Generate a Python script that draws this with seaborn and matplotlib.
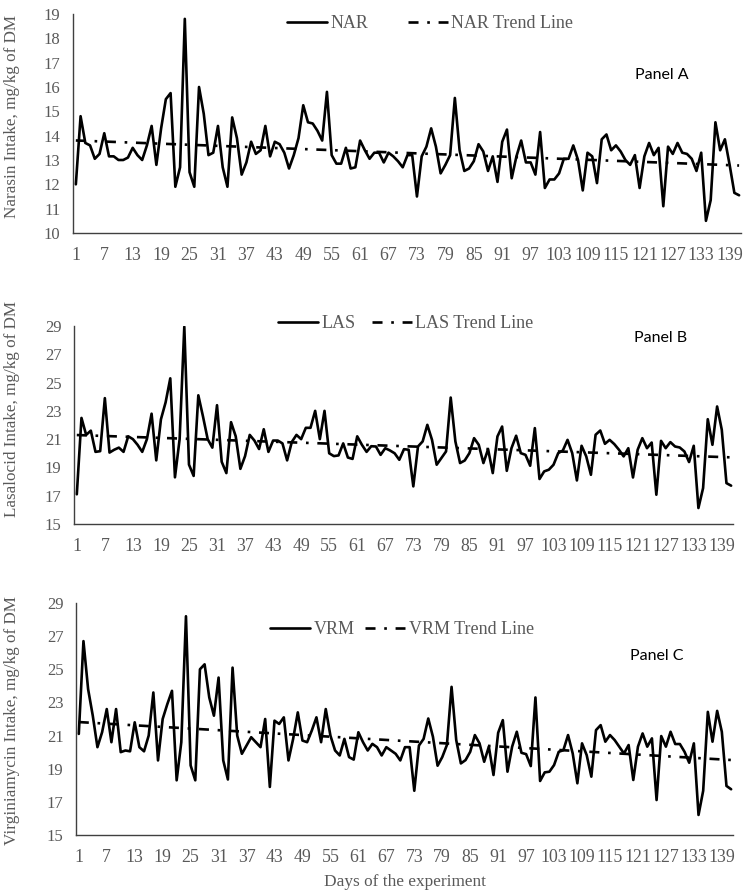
import numpy as np
import pandas as pd
import matplotlib
matplotlib.use("Agg")
import matplotlib.pyplot as plt
import seaborn as sns

# daily intake, mg/kg of DM
nar = [12.0, 14.8, 13.7, 13.6, 13.05, 13.25, 14.1, 13.15, 13.15, 13.0,
       13.0, 13.1, 13.5, 13.2, 13.0, 13.6, 14.4, 12.8, 14.3, 15.5,
       15.75, 11.9, 12.7, 18.8, 12.5, 11.9, 16.0, 14.9, 13.2, 13.3,
       14.4, 12.7, 11.9, 14.75, 13.9, 12.4, 12.9, 13.75, 13.25, 13.4,
       14.4, 13.15, 13.75, 13.65, 13.3, 12.65, 13.2, 13.9, 15.25, 14.55,
       14.5, 14.2, 13.8, 15.8, 13.2, 12.85, 12.85, 13.5, 12.65, 12.7,
       13.8, 13.4, 13.05, 13.3, 13.3, 12.9, 13.3, 13.15, 12.95, 12.7,
       13.2, 13.2, 11.5, 13.15, 13.55, 14.3, 13.55, 12.45, 12.8, 13.2,
       15.55, 13.4, 12.55, 12.65, 12.95, 13.65, 13.35, 12.55, 13.15, 12.1,
       13.75, 14.25, 12.25, 13.15, 13.8, 12.9, 12.9, 12.4, 14.15, 11.85,
       12.2, 12.2, 12.45, 13.05, 13.05, 13.6, 13.0, 11.75, 13.3, 13.15,
       12.05, 13.85, 14.05, 13.4, 13.6, 13.35, 13.0, 12.8, 13.2, 11.85,
       13.15, 13.7, 13.2, 13.5, 11.1, 13.55, 13.25, 13.7, 13.3, 13.25,
       13.05, 12.55, 13.3, 10.5, 11.35, 14.55, 13.4, 13.85, 12.8, 11.65, 11.55]

las = [17.1, 22.5, 21.3, 21.6, 20.1, 20.15, 23.9, 20.05, 20.25, 20.4,
       20.1, 21.2, 21.0, 20.6, 20.1, 21.0, 22.8, 19.5, 22.4, 23.6,
       25.3, 18.3, 21.0, 28.95, 19.2, 18.4, 24.1, 22.6, 21.0, 20.4,
       23.4, 19.4, 18.6, 22.2, 21.2, 18.9, 19.8, 21.3, 20.9, 20.3,
       21.7, 20.1, 20.9, 20.9, 20.7, 19.5, 20.8, 21.3, 21.0, 21.8,
       21.8, 23.0, 21.0, 23.0, 20.0, 19.8, 19.85, 20.7, 19.7, 19.6,
       21.2, 20.6, 20.1, 20.5, 20.48, 19.89, 20.36, 20.2, 20.0, 19.54,
       20.29, 20.25, 17.66, 20.48, 20.84, 22.01, 20.95, 19.19, 19.66, 20.13,
       23.94, 20.84, 19.31, 19.49, 20.01, 21.07, 20.6, 19.31, 20.29, 18.6,
       21.19, 21.89, 18.76, 20.36, 21.24, 20.01, 19.89, 19.12, 21.78, 18.18,
       18.72, 18.84, 19.19, 20.01, 20.2, 20.95, 20.01, 18.08, 20.53, 19.78,
       18.48, 21.31, 21.61, 20.67, 20.95, 20.65, 20.25, 19.78, 20.36, 18.29,
       20.25, 21.07, 20.36, 20.76, 17.07, 20.88, 20.36, 20.79, 20.48, 20.41,
       20.13, 19.38, 20.53, 16.13, 17.54, 22.41, 20.6, 23.31, 21.66, 17.89, 17.71]

vrm = [21.1, 26.7, 23.8, 22.2, 20.3, 21.2, 22.6, 20.6, 22.6, 20.0,
       20.1, 20.05, 21.8, 20.3, 20.05, 21.0, 23.6, 19.5, 22.0, 22.9,
       23.7, 18.3, 20.6, 28.2, 19.2, 18.3, 25.0, 25.3, 23.3, 22.2,
       24.5, 19.5, 18.35, 25.1, 21.0, 19.9, 20.4, 20.9, 20.6, 20.3,
       22.0, 17.9, 21.9, 21.7, 22.1, 19.5, 20.8, 22.4, 20.7, 20.6,
       21.3, 22.1, 20.6, 22.6, 21.0, 20.1, 19.8, 20.8, 19.7, 19.55,
       21.2, 20.6, 20.1, 20.5, 20.3, 19.8, 20.3, 20.1, 19.9, 19.5,
       20.3, 20.3, 17.67, 20.4, 20.8, 22.03, 20.93, 19.18, 19.7, 20.43,
       23.94, 20.73, 19.32, 19.52, 20.02, 21.03, 20.53, 19.42, 20.33, 18.62,
       21.17, 21.93, 18.82, 20.33, 21.23, 19.96, 19.88, 19.16, 23.3, 18.26,
       18.78, 18.82, 19.22, 20.02, 20.12, 21.03, 19.92, 18.12, 20.53, 19.82,
       18.52, 21.33, 21.63, 20.63, 21.03, 20.73, 20.33, 19.92, 20.43, 18.32,
       20.33, 21.13, 20.33, 20.83, 17.11, 20.97, 20.33, 21.23, 20.49, 20.49,
       20.02, 19.36, 20.53, 16.21, 17.67, 22.43, 20.63, 22.49, 21.23, 17.96, 17.76]

names = ["NAR", "LAS", "VRM"]
ylabels = ["Narasin Intake, mg/kg of DM", "Lasalocid Intake, mg/kg of DM",
           "Virginiamycin Intake, mg/kg of DM"]
panel_names = ["Panel A", "Panel B", "Panel C"]

sns.set_style("white")
plt.rcParams['font.family'] = ['Liberation Serif', 'DejaVu Serif']
GRAY = "#595959"

W, H = 752, 896
fig = plt.figure(figsize=(W / 100, H / 100), dpi=100)

# pixel layout of each panel: (left, top, right, bottom)
boxes = [(73, 14, 741, 233), (74, 326, 733, 524), (76, 603, 733, 835)]
ylims = [(10, 19, 1), (15, 29, 2), (15, 29, 2)]
legend_pos = [(430, 24), (406, 324), (402, 630)]
col_space = [2.2, 0.9, 0.6]
label_y = [116, 409, 720]
panel_pos = [(662, 75), (661, 338), (657, 656)]

for i, vals in enumerate([nar, las, vrm]):
    l, t, r, b = boxes[i]
    ax = fig.add_axes([l / W, 1 - b / H, (r - l) / W, (b - t) / H])
    df = pd.DataFrame({"day": np.arange(1, len(vals) + 1), "val": vals})
    coef = np.polyfit(df["day"], df["val"], 1)
    df["trend"] = np.polyval(coef, df["day"])

    sns.lineplot(data=df, x="day", y="val", ax=ax, color="black", lw=1.9,
                 label=names[i])
    sns.lineplot(data=df, x="day", y="trend", ax=ax, color="black", lw=1.9,
                 dashes=False, label=names[i] + " Trend Line")
    ax.lines[1].set_dashes([3.8, 3.3, 1.0, 3.3])
    ax.lines[1].set_dash_capstyle("butt")

    lo, hi, step = ylims[i]
    ax.set_ylim(lo, hi)
    ax.set_yticks(np.arange(lo, hi + 0.1, step))
    ax.set_xlim(0.4, len(vals) + 0.4)
    ax.set_xticks(np.arange(1, len(vals) + 1, 6))
    ax.set_xlabel("")
    ax.set_ylabel("")
    ax.tick_params(length=0, labelcolor=GRAY)
    ax.tick_params(axis="x", labelsize=12.8, pad=10)
    ax.tick_params(axis="y", labelsize=12, pad=9)
    for s in ["top", "right"]:
        ax.spines[s].set_visible(False)
    for s in ["left", "bottom"]:
        ax.spines[s].set_color("#404040")
        ax.spines[s].set_linewidth(1.0)

    lx, ly = legend_pos[i]
    leg = ax.legend(loc="center", ncol=2, frameon=False, fontsize=13,
                    handlelength=2.2, handletextpad=0.2,
                    columnspacing=col_space[i],
                    bbox_to_anchor=(lx / W, 1 - ly / H),
                    bbox_transform=fig.transFigure)
    for txt in leg.get_texts():
        txt.set_color(GRAY)

    fig.text(12 / W, 1 - label_y[i] / H, ylabels[i], rotation=90,
             ha="center", va="center", fontsize=12.3, color=GRAY)
    px, py = panel_pos[i]
    fig.text(px / W, 1 - py / H, panel_names[i], ha="center", va="center",
             fontsize=11.5, family=["Lato", "DejaVu Sans"], color="black")

fig.text(405 / W, 1 - 882 / H, "Days of the experiment", ha="center",
         va="center", fontsize=12.4, color=GRAY)

fig.savefig("out.png", dpi=100)
